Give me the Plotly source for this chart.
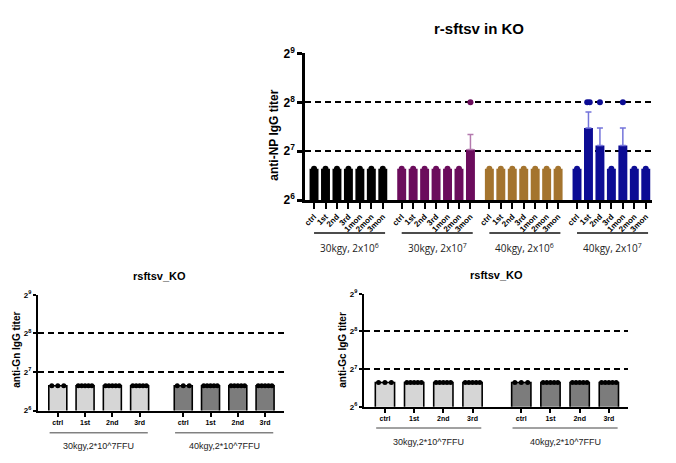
import math
import plotly.graph_objects as go

FONT = "Liberation Sans"

# ---------------- top panel data (anti-NP) ----------------
np_title = "r-sftsv in KO"
np_ylabel = "anti-NP IgG titer"
np_groups = ["30kgy, 2x10<sup>6</sup>", "30kgy, 2x10<sup>7</sup>",
             "40kgy, 2x10<sup>6</sup>", "40kgy, 2x10<sup>7</sup>"]
np_times = ["ctrl", "1st", "2nd", "3rd", "1mon", "2mon", "3mon"]
np_mean_g1 = [100, 100, 100, 100, 100, 100, 100]
np_mean_g2 = [100, 100, 100, 100, 100, 100, 131]
np_mean_g3 = [100, 100, 100, 100, 100, 100, 100]
np_mean_g4 = [100, 178, 139, 100, 139, 100, 100]
np_sem_g1 = [0, 0, 0, 0, 0, 0, 0]
np_sem_g2 = [0, 0, 0, 0, 0, 0, 31]
np_sem_g3 = [0, 0, 0, 0, 0, 0, 0]
np_sem_g4 = [0, 45, 39, 0, 39, 0, 0]
# number of animals at the high titer (2^8) per bar
np_high_g1 = [0, 0, 0, 0, 0, 0, 0]
np_high_g2 = [0, 0, 0, 0, 0, 0, 1]
np_high_g3 = [0, 0, 0, 0, 0, 0, 0]
np_high_g4 = [0, 2, 1, 0, 1, 0, 0]
baseline_titer = 100
high_titer = 256

np_colors = ["#000000", "#6B0C5C", "#A4742E", "#0C0C94"]
np_err_colors = ["#000000", "#B47AAE", "#C8A060", "#7474DA"]

# ---------------- bottom panels data (anti-Gn, anti-Gc) ----------------
sub_title = "rsftsv_KO"
gn_ylabel = "anti-Gn IgG titer"
gc_ylabel = "anti-Gc IgG titer"
sub_groups = ["30kgy,2*10^7FFU", "40kgy,2*10^7FFU"]
sub_times = ["ctrl", "1st", "2nd", "3rd"]
gn_mean_g1 = [100, 100, 100, 100]
gn_mean_g2 = [100, 100, 100, 100]
gc_mean_g1 = [100, 100, 100, 100]
gc_mean_g2 = [100, 100, 100, 100]
sub_n_g1 = [3, 5, 5, 5]
sub_n_g2 = [3, 5, 5, 5]
sub_colors = ["#D6D6D6", "#7C7C7C"]

y_tickvals = [64, 128, 256, 512]
y_ticktext = ["2<sup>6</sup>", "2<sup>7</sup>", "2<sup>8</sup>", "2<sup>9</sup>"]
ref_levels = [128, 256]
y_range = [math.log10(64), math.log10(512)]

fig = go.Figure()


def note(x, y, text, size, family=FONT, weight="normal", color="black", angle=0, xref="paper"):
    fig.add_annotation(xref=xref, yref="paper", x=x, y=y, text=text, showarrow=False,
                       xanchor="center", yanchor="middle", textangle=angle,
                       font=dict(family=family, size=size, color=color, weight=weight))


# ---------- top panel ----------
np_means = [np_mean_g1, np_mean_g2, np_mean_g3, np_mean_g4]
np_sems = [np_sem_g1, np_sem_g2, np_sem_g3, np_sem_g4]
np_highs = [np_high_g1, np_high_g2, np_high_g3, np_high_g4]
TOP_STEP = 7.65
top_tickvals, top_ticktext = [], []
for g, means in enumerate(np_means):
    xs = [g * TOP_STEP + i for i in range(len(np_times))]
    top_tickvals += xs
    top_ticktext += np_times
    fig.add_trace(go.Bar(x=xs, y=means, width=0.78, marker_color=np_colors[g],
                         marker_line_width=0, xaxis="x", yaxis="y", showlegend=False))
    ex = [x for x, s in zip(xs, np_sems[g]) if s > 0]
    ey = [m for m, s in zip(means, np_sems[g]) if s > 0]
    es = [s for s in np_sems[g] if s > 0]
    if ex:
        fig.add_trace(go.Scatter(x=ex, y=ey, mode="markers", marker=dict(size=1, color="rgba(0,0,0,0)"),
                                 error_y=dict(type="data", symmetric=False, array=es,
                                              arrayminus=[0] * len(es), color=np_err_colors[g],
                                              thickness=1.5, width=3),
                                 xaxis="x", yaxis="y", showlegend=False, hoverinfo="skip"))
    fig.add_trace(go.Scatter(x=xs, y=[baseline_titer] * len(xs), mode="markers",
                             marker=dict(size=6, color=np_colors[g]), xaxis="x", yaxis="y",
                             showlegend=False))
    hx, hy = [], []
    for x, c in zip(xs, np_highs[g]):
        offs = [0] if c == 1 else [(k - (c - 1) / 2) * 0.22 for k in range(c)]
        for o in offs[:c]:
            hx.append(x + o)
            hy.append(high_titer)
    if hx:
        fig.add_trace(go.Scatter(x=hx, y=hy, mode="markers", marker=dict(size=6, color=np_colors[g]),
                                 xaxis="x", yaxis="y", showlegend=False))
    fig.add_shape(type="line", xref="x", yref="paper", x0=xs[0], x1=xs[-1] + 0.2,
                  y0=1 - 232 / 463, y1=1 - 232 / 463, line=dict(color="#111", width=1.4))
    note((xs[0] + xs[-1]) / 2 + 0.1, 1 - 248 / 463, np_groups[g], 10, family="Open Sans",
         color="#222", xref="x")


def add_sub(means_groups, n_groups, xa, ya, step, y_line, y_lab):
    tv, tt = [], []
    for g, means in enumerate(means_groups):
        xs = [g * step + i for i in range(len(sub_times))]
        tv += xs
        tt += sub_times
        fig.add_trace(go.Bar(x=xs, y=means, width=0.66, marker_color=sub_colors[g],
                             marker_line=dict(color="black", width=1.6),
                             xaxis=xa, yaxis=ya, showlegend=False))
        px, py = [], []
        for x, m, n in zip(xs, means, n_groups[g]):
            half = 0.22 if n <= 3 else 0.25
            for k in range(n):
                px.append(x - half + 2 * half * k / (n - 1))
                py.append(m)
        fig.add_trace(go.Scatter(x=px, y=py, mode="markers", marker=dict(size=5, color="black"),
                                 xaxis=xa, yaxis=ya, showlegend=False))
        fig.add_shape(type="line", xref=xa, yref="paper", x0=xs[0] - 0.3, x1=xs[-1] + 0.3,
                      y0=y_line, y1=y_line, line=dict(color="#444", width=1))
        note((xs[0] + xs[-1]) / 2, y_lab, sub_groups[g], 9, color="#222", xref=xa)
    return tv, tt


bl_tv, bl_tt = add_sub([gn_mean_g1, gn_mean_g2], [sub_n_g1, sub_n_g2], "x2", "y2", 4.6,
                       1 - 439 / 463, 1 - 453 / 463)
br_tv, br_tt = add_sub([gc_mean_g1, gc_mean_g2], [sub_n_g1, sub_n_g2], "x3", "y3", 4.67,
                       1 - 434 / 463, 1 - 448 / 463)


def yaxis(domain, anchor, lw, tsize, ticklen):
    return dict(domain=domain, anchor=anchor, type="log", range=y_range,
                tickvals=y_tickvals, ticktext=y_ticktext, showline=True, linecolor="black",
                linewidth=lw, ticks="outside", ticklen=ticklen, tickwidth=lw, tickcolor="black",
                showgrid=False, zeroline=False,
                tickfont=dict(family=FONT, size=tsize, color="black", weight="bold"),
                minor=dict(tickvals=ref_levels, showgrid=True, gridcolor="black",
                           gridwidth=1.8, griddash="6px,4px", ticks=""))


def xaxis(domain, anchor, rng, tv, tt, lw, tsize, ticklen, angle):
    return dict(domain=domain, anchor=anchor, range=rng, tickvals=tv, ticktext=tt,
                showline=True, linecolor="black", linewidth=lw, ticks="outside",
                ticklen=ticklen, tickwidth=1.5, tickcolor="black", tickangle=angle,
                showgrid=False, zeroline=False,
                tickfont=dict(family=FONT, size=tsize, color="black", weight="bold"))


fig.update_layout(
    width=676, height=463, margin=dict(l=0, r=0, t=0, b=0),
    paper_bgcolor="white", plot_bgcolor="white", barmode="overlay",
    font=dict(family=FONT, color="black"),
    xaxis=xaxis([304 / 676, 652 / 676], "y", [-0.78, 29.5], top_tickvals, top_ticktext,
                2.5, 8, 6, -45),
    yaxis=yaxis([1 - 198 / 463, 1 - 46 / 463], "x", 2.5, 12, 5),
    xaxis2=xaxis([36 / 676, 283 / 676], "y2", [-0.73, 8.3], bl_tv, bl_tt, 2, 7, 4, 0),
    yaxis2=yaxis([1 - 416 / 463, 1 - 296 / 463], "x2", 2, 8, 3),
    xaxis3=xaxis([363 / 676, 628 / 676], "y3", [-0.72, 8.33], br_tv, br_tt, 2, 7, 4, 0),
    yaxis3=yaxis([1 - 412 / 463, 1 - 295 / 463], "x3", 2, 8, 3),
)

# titles
note(478 / 676, 1 - 20 / 463, np_title, 15, weight="bold")
note(158 / 676, 1 - 277 / 463, sub_title, 11, weight="bold")
note(496 / 676, 1 - 276 / 463, sub_title, 11, weight="bold")
# y titles
note(273 / 676, 1 - 131 / 463, np_ylabel, 12, weight="bold", angle=-90)
note(15 / 676, 1 - 353 / 463, gn_ylabel, 10, weight="bold", angle=-90)
note(342 / 676, 1 - 353 / 463, gc_ylabel, 10, weight="bold", angle=-90)

fig.write_html("out.html", config={"displayModeBar": False},
               post_script="document.body.style.margin='0';")
